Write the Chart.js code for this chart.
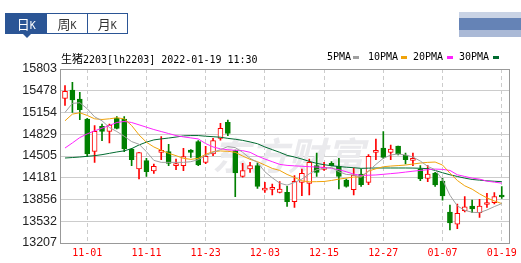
<!DOCTYPE html>
<html>
<head>
<meta charset="utf-8">
<script src="https://cdn.jsdelivr.net/npm/chart.js@4.4.0/dist/chart.umd.min.js"></script>
<style>
  body { margin: 0; background: #fff; }
  #wrap { position: relative; width: 521px; height: 263px; overflow: hidden; }
  #c { position: absolute; left: 0; top: 0; }
  .tabs { position: absolute; left: 5px; top: 13px; width: 121px; height: 19px; border: 1px solid #2b5595; display: flex; }
  .tab { width: 40px; height: 19px; line-height: 19px; text-align: center; color: #333; font-family: "Noto Sans CJK SC"; font-size: 13px; }
  .tab + .tab { border-left: 1px solid #2b5595; }
  .tab.on { background: #2b5595; color: #fff; width: 41px; }
  .tab span { font-family: "DejaVu Sans Mono"; font-size: 10px; }
  .arrow { position: absolute; left: 23px; top: 34px; width: 0; height: 0; border-left: 4px solid transparent; border-right: 4px solid transparent; border-top: 4px solid #2b5595; }
  .logo { position: absolute; left: 459px; top: 12px; width: 62px; height: 25px;
    background: linear-gradient(#c9d3e5 0, #c9d3e5 6px, #6583b6 6px, #6583b6 18px, #aab9d6 18px); }
  .title { position: absolute; left: 61px; top: 50px; font-family: "DejaVu Sans Mono"; font-size: 10px; color: #000; white-space: nowrap; }
  .title .cjk { font-family: "Noto Sans CJK SC"; font-size: 11px; }
  .leg { position: absolute; top: 51px; font-family: "DejaVu Sans Mono"; font-size: 10px; color: #000; white-space: nowrap; }
  .sq { position: absolute; top: 56px; width: 6px; height: 3px; }
</style>
</head>
<body>
<div id="wrap">
  <canvas id="c" width="521" height="263"></canvas>
  <div class="tabs">
    <div class="tab on">日<span>K</span></div>
    <div class="tab">周<span>K</span></div>
    <div class="tab">月<span>K</span></div>
  </div>
  <div class="arrow"></div>
  <div class="logo"></div>
  <div class="title"><span class="cjk">生猪</span>2203[lh2203] 2022-01-19 11:30</div>
  <div id="legend"></div>
</div>
<script>
// trading days shown (one candle each)
const dates = [
  '10-27','10-28','10-29',
  '11-01','11-02','11-03','11-04','11-05','11-08','11-09','11-10','11-11','11-12','11-15','11-16','11-17','11-18','11-19',
  '11-22','11-23','11-24','11-25','11-26','11-29','11-30',
  '12-01','12-02','12-03','12-06','12-07','12-08','12-09','12-10','12-13','12-14','12-15','12-16','12-17',
  '12-20','12-21','12-22','12-23','12-24','12-27','12-28','12-29','12-30','12-31',
  '01-04','01-05','01-06','01-07','01-10','01-11','01-12','01-13','01-14','01-17','01-18','01-19'
];

const open = [15365,15490,15355,15057,14575,14948,14873,15072,15057,14609,
  14311,14435,14281,14560,14570,14361,14361,14594,14719,14410,
  14535,14768,15007,14585,14202,14311,14361,13995,14008,13963,
  13963,13824,14112,14097,14361,14306,14396,14351,14147,14003,
  14236,14112,14560,14624,14560,14654,14520,14440,14311,14172,
  14251,14130,13670,13487,13690,13759,13660,13782,13809,13903];
const close = [15470,15340,15196,14535,14873,14873,14967,14918,14609,14450,
  14555,14271,14351,14585,14396,14386,14495,14560,14371,14500,
  14734,14918,14843,14251,14286,14361,14053,14018,14018,14013,
  13824,14127,14246,14410,14261,14311,14361,14202,14053,14221,
  14077,14500,14585,14485,14609,14535,14450,14450,14162,14236,
  14073,13910,13505,13650,13745,13714,13759,13792,13898,13893];
const high = [15554,15604,15455,15067,14958,14982,14982,15092,15092,14620,
  14560,14470,14386,14793,14679,14460,14619,14600,14734,14649,
  14768,14992,15042,14594,14396,14410,14400,14112,14087,14122,
  14053,14212,14311,14460,14550,14410,14420,14470,14160,14326,
  14311,14525,14759,14868,14669,14654,14550,14550,14361,14361,
  14261,14170,13774,13789,13900,13848,13858,13948,13958,14047];
const low = [15260,15156,15047,14500,14410,14734,14699,14908,14570,14361,
  14162,14202,14246,14450,14361,14301,14286,14485,14361,14390,
  14510,14740,14808,13898,14190,14261,14023,13963,13923,13955,
  13754,13739,13913,13923,14202,14290,14356,14013,14040,13923,
  14050,14077,14450,14470,14450,14520,14386,14361,14137,14122,
  14050,13845,13403,13420,13672,13660,13590,13739,13789,13873];

const ma5 = [15155,15290,15300,15210,15090,15030,14930,14870,14800,14720,
  14680,14570,14440,14410,14410,14410,14410,14420,14450,14510,
  14560,14600,14645,14630,14560,14470,14410,14270,14180,14100,
  14070,14110,14160,14240,14300,14320,14335,14270,14230,14222,
  14190,14280,14380,14470,14520,14535,14520,14490,14430,14350,
  14300,14150,13920,13760,13695,13665,13660,13700,13750,13795];
const ma10 = [15030,15130,15150,15110,15060,15050,15060,15075,15060,14960,
  14820,14710,14640,14590,14545,14510,14470,14455,14470,14530,
  14570,14580,14575,14560,14505,14455,14420,14370,14320,14290,
  14230,14185,14135,14120,14122,14125,14140,14160,14175,14190,
  14195,14280,14315,14345,14355,14362,14370,14385,14400,14410,
  14415,14370,14250,14140,14060,14010,13940,13880,13835,13795];
const ma20 = [14624,14700,14780,14835,14880,14920,14960,15005,15020,15005,
  14970,14935,14900,14870,14840,14810,14790,14775,14760,14690,
  14640,14612,14598,14590,14585,14560,14505,14460,14420,14380,
  14365,14358,14352,14346,14340,14335,14322,14300,14270,14235,
  14215,14218,14222,14232,14242,14252,14265,14278,14290,14300,
  14310,14305,14290,14225,14200,14175,14160,14130,14115,14100];
const ma30 = [14475,14482,14490,14500,14510,14525,14545,14565,14582,14615,
  14670,14712,14745,14760,14773,14788,14805,14810,14810,14800,
  14793,14785,14768,14755,14738,14715,14688,14640,14600,14560,
  14515,14490,14460,14425,14395,14375,14360,14348,14338,14330,
  14321,14324,14326,14326,14326,14326,14326,14325,14322,14316,
  14290,14255,14225,14200,14175,14155,14145,14135,14128,14122];

const yTicks = [13207,13532,13856,14181,14505,14829,15154,15478,15803];
const xTickIdx = [3,11,19,27,35,43,51,59];

const maNames = ['5PMA','10PMA','20PMA','30PMA'];
const maColors = ['#a0a0a0','#f0a30a','#ff22ff','#006b30'];

const RED = '#ff0000', GREEN = '#008000';

// legend row
const legPos = [[327,353],[368,401],[413,447],[459,493]];
const legendEl = document.getElementById('legend');
maNames.forEach((n, i) => {
  const t = document.createElement('div');
  t.className = 'leg';
  t.style.left = legPos[i][0] + 'px';
  t.textContent = n;
  legendEl.appendChild(t);
  const s = document.createElement('div');
  s.className = 'sq';
  s.style.left = legPos[i][1] + 'px';
  s.style.background = maColors[i];
  legendEl.appendChild(s);
});

const up = open.map((o, i) => close[i] >= o);
const candleColor = up.map(u => u ? RED : GREEN);

const frame = {
  id: 'frame',
  beforeDatasetsDraw(chart) {
    const ctx = chart.ctx;
    ctx.save();
    ctx.fillStyle = '#eaeaed';
    ctx.font = 'bold italic 38px "Noto Sans CJK SC"';
    ctx.textBaseline = 'alphabetic';
    ctx.fillText('东方财富', 212, 170);
    ctx.restore();
  },
  afterDraw(chart) {
    const ctx = chart.ctx, a = chart.chartArea;
    ctx.save();
    ctx.strokeStyle = '#999';
    ctx.lineWidth = 1;
    ctx.strokeRect(Math.round(a.left) - 0.5, Math.round(a.top) + 0.5, Math.round(a.right - a.left), Math.round(a.bottom - a.top));
    ctx.restore();
  }
};

const lineSet = (data, i) => ({
  type: 'line',
  label: maNames[i],
  data: data.map((v, k) => ({ x: k, y: v })),
  borderColor: maColors[i],
  borderWidth: 1,
  pointRadius: 0,
  tension: 0,
  order: 0
});

new Chart(document.getElementById('c').getContext('2d'), {
  type: 'bar',
  data: {
    datasets: [
      lineSet(ma5, 0), lineSet(ma10, 1), lineSet(ma20, 2), lineSet(ma30, 3),
      {
        label: 'body',
        data: open.map((o, i) => ({ x: i, y: [o, close[i]] })),
        backgroundColor: up.map(u => u ? '#ffffff' : GREEN),
        borderColor: candleColor,
        borderWidth: 1,
        borderSkipped: false,
        barThickness: 5,
        minBarLength: 2,
        grouped: false,
        order: 1
      },
      {
        label: 'wick',
        data: low.map((l, i) => ({ x: i, y: [l, high[i]] })),
        backgroundColor: candleColor,
        borderWidth: 0,
        barThickness: 1,
        grouped: false,
        order: 2
      }
    ]
  },
  options: {
    responsive: false,
    animation: false,
    layout: { padding: { top: 69, right: 11, left: 0, bottom: 0 } },
    plugins: { legend: { display: false }, tooltip: { enabled: false } },
    scales: {
      x: {
        type: 'linear',
        offset: false,
        min: -0.54,
        max: 60.08,
        afterBuildTicks: s => { s.ticks = xTickIdx.map(v => ({ value: v })); },
        afterFit: s => { s.height = 20; },
        ticks: {
          autoSkip: false,
          maxRotation: 0,
          padding: 4,
          color: RED,
          font: { family: 'DejaVu Sans Mono', size: 10 },
          callback: v => dates[v]
        },
        grid: { color: '#cccccc', drawTicks: false, tickLength: 0, offset: false },
        border: { display: false, dash: [4, 3] }
      },
      y: {
        min: 13207,
        max: 15803,
        afterBuildTicks: s => { s.ticks = yTicks.map(v => ({ value: v })); },
        afterFit: s => { s.width = 61; },
        ticks: {
          padding: 4,
          color: '#222',
          font: { family: 'Liberation Sans', size: 12.5 },
          callback: v => String(v)
        },
        grid: { color: '#cccccc', drawTicks: false, tickLength: 0 },
        border: { display: false }
      }
    }
  },
  plugins: [frame]
});
</script>
</body>
</html>
